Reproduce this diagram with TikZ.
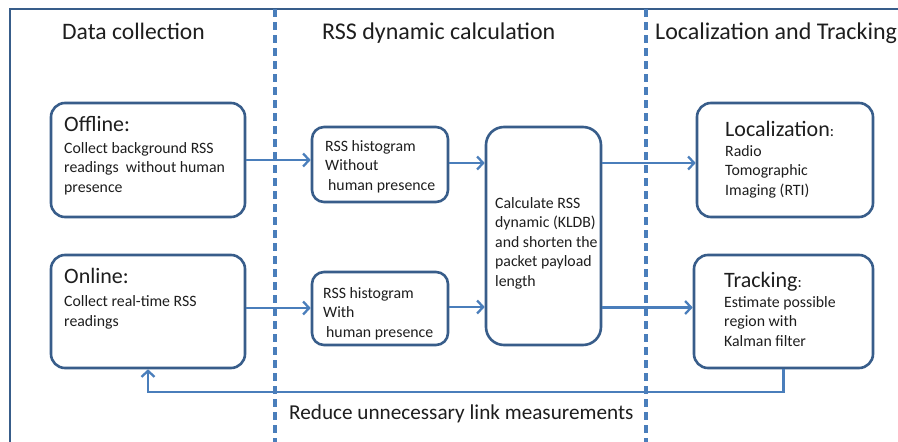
\documentclass[tikz,border=0pt]{standalone}
\usepackage{fontspec}
\setmainfont{Carlito}
\usetikzlibrary{arrows.meta}
\definecolor{boxblue}{HTML}{385D8A}
\definecolor{linkblue}{HTML}{4A7EBB}
\definecolor{txt}{HTML}{1E1E1E}
\tikzset{
  stage/.style={draw=boxblue, line width=2.6pt, rounded corners=14pt, inner sep=0pt, fill=white},
  arr/.style={draw=linkblue, line width=2.3pt, -{Straight Barb[length=6pt,width=13pt,line width=2.3pt]}},
  divider/.style={draw=linkblue, line width=3.2pt, dash pattern=on 8pt off 5pt},
  frame/.style={draw=boxblue, line width=2.8pt},
  ttl/.style={text=txt, inner sep=0pt, anchor=base west, font=\fontsize{23.6}{28}\selectfont},
  hd/.style={text=txt, inner sep=0pt, anchor=base west, font=\fontsize{22}{26}\selectfont},
  % multi-line body text: the base anchor sits on the last line
  bd/.style={text=txt, inner sep=0pt, anchor=base west, align=left, font=\fontsize{15.8}{19.5}\selectfont},
}
\begin{document}
\begin{tikzpicture}[x=1pt,y=-1pt]
\useasboundingbox (0,0) rectangle (898,442);
\fill[white] (0,0) rectangle (898,442);

% outer frame and column dividers
\draw[frame] (898,9) -- (10,9) -- (10,442);
\draw[divider] (275,9) -- (275,442);
\draw[divider] (646,9) -- (646,442);

% column titles
\node[ttl] (t1) at (62,39) {Data collection};
\node[ttl, font=\fontsize{24}{28}\selectfont] (t2) at (322,39) {RSS dynamic calculation};
\node[ttl, font=\fontsize{24}{28}\selectfont] (t3) at (655,39) {Localization and Tracking};

% stage boxes
\node[stage, minimum width=194pt, minimum height=114pt] (off) at (148,160) {};
\node[stage, minimum width=194pt, minimum height=113pt] (on) at (148,311.5) {};
\node[stage, rounded corners=12pt, minimum width=136pt, minimum height=75pt] (h1) at (380,164.5) {};
\node[stage, rounded corners=12pt, minimum width=136pt, minimum height=73pt] (h2) at (380,308.5) {};
\node[stage, rounded corners=18pt, minimum width=115pt, minimum height=218pt] (kl) at (543.5,236) {};
\node[stage, minimum width=176pt, minimum height=114pt] (loc) at (785,160) {};
\node[stage, minimum width=179pt, minimum height=113pt] (trk) at (783.5,311.5) {};

% box texts
\node[hd] (offh) at (64,131) {Offline:};
\node[bd] (offb) at (64,192) {Collect background RSS\\readings\ \ without human\\presence};
\node[hd] (onh) at (64,283) {Online:};
\node[bd] (onb) at (64,326) {Collect real-time RSS\\readings};
\node[bd] (h1b) at (325,190) {RSS histogram\\Without\\\hspace{3pt}human presence};
\node[bd] (h2b) at (323,337) {RSS histogram\\With\\\hspace{3pt}human presence};
\node[bd] (klb) at (495,286) {Calculate RSS\\dynamic (KLDB)\\and shorten the\\packet payload\\length};
\node[hd] (loch) at (725,136) {Localization{\fontsize{15.8}{18}\selectfont:}};
\node[bd] (locb) at (725,195) {Radio\\Tomographic\\Imaging (RTI)};
\node[hd] (trkh) at (724,287) {Tracking{\fontsize{15.8}{18}\selectfont:}};
\node[bd] (trkb) at (724,346) {Estimate possible\\region with\\Kalman filter};

% connectors
\draw[arr] (off.east) -- (off.east -| h1.west);
\draw[arr] (on.east |- 0,308) -- (h2.west |- 0,308);
\draw[arr] (h1.east |- 0,163) -- (kl.west |- 0,163);
\draw[arr] (h2.east |- 0,307) -- (kl.west |- 0,307);
\draw[arr] (kl.east |- 0,163) -- (loc.west |- 0,163);
\draw[arr] (kl.east |- 0,307.5) -- (trk.west |- 0,307.5);
\draw[arr] (trk.south) -- (trk.south |- 0,392) -| (on.south);

% feedback label
\node[hd, font=\fontsize{21.2}{25}\selectfont] (fb) at (289,419) {Reduce unnecessary link measurements};
\end{tikzpicture}
\end{document}
